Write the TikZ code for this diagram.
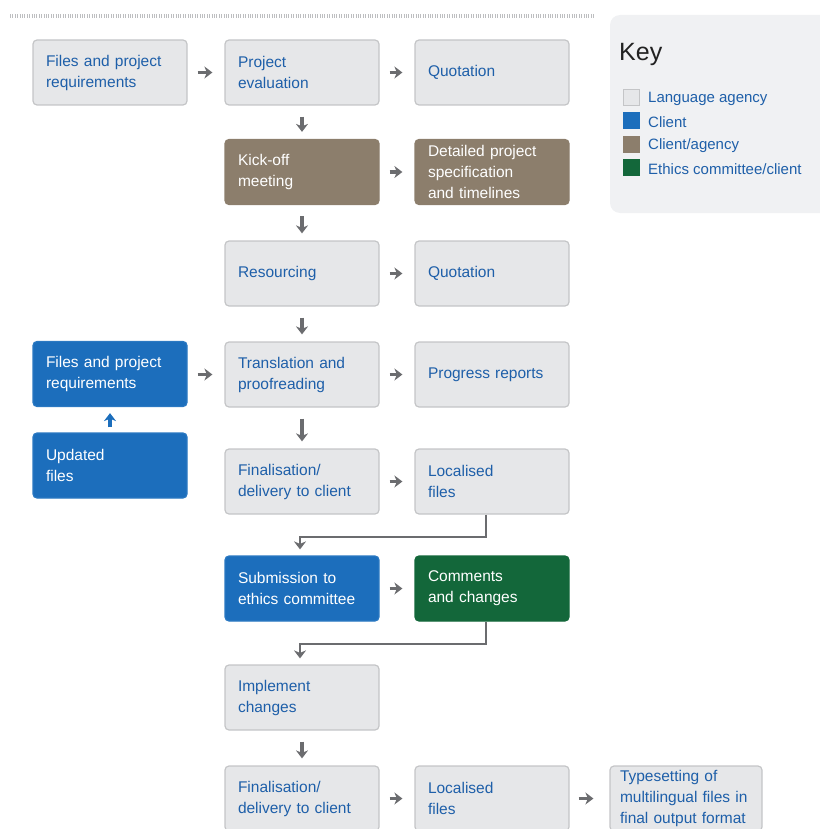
\documentclass[tikz,border=0pt]{standalone}
\usepackage{fontspec}
\setmainfont{Liberation Sans}
\usetikzlibrary{arrows.meta,calc}
\definecolor{boxgray}{HTML}{E6E7E9}
\definecolor{boxline}{HTML}{C4C5C7}
\definecolor{txtblue}{HTML}{1E5FA9}
\definecolor{clientblue}{HTML}{1C6EBC}
\definecolor{clientline}{HTML}{2A78C2}
\definecolor{brownbox}{HTML}{8C7E6C}
\definecolor{greenbox}{HTML}{13673A}
\definecolor{arrowgray}{HTML}{6B6C6F}
\definecolor{keybg}{HTML}{F0F1F3}
\definecolor{dotgray}{HTML}{BDBEC0}
\definecolor{keytext}{HTML}{222222}
\tikzset{
  basebox/.style={rectangle, rounded corners=4pt, minimum width=154pt, minimum height=65pt,
    text width=128pt, inner xsep=13pt, inner ysep=0pt, align=left,
    font=\fontsize{15.5}{21}\selectfont, line width=1.2pt},
  agency/.style={basebox, fill=boxgray, draw=boxline, text=txtblue},
  client/.style={basebox, fill=clientblue, draw=clientline, text=white},
  both/.style={basebox, fill=brownbox, draw=brownbox, text=white},
  ethics/.style={basebox, fill=greenbox, draw=greenbox, text=white},
  tip/.style={-{Stealth[length=8pt,width=12pt,inset=2.5pt]}},
  harr/.style={draw=arrowgray, line width=3.5pt, tip, shorten <=10pt, shorten >=12pt},
  varr/.style={draw=arrowgray, line width=3.5pt, tip, shorten <=11pt, shorten >=7pt},
  uarr/.style={draw=clientblue, line width=3.5pt, tip, shorten <=5pt, shorten >=6pt},
  elbow/.style={draw=arrowgray, line width=2pt, -{Stealth[length=8pt,width=12pt,inset=2.5pt]}, shorten >=6pt},
  legsq/.style={rectangle, minimum width=16pt, minimum height=16pt, inner sep=0pt, line width=0.8pt},
  legtxt/.style={anchor=west, inner sep=0pt, text=txtblue, font=\fontsize{15}{18}\selectfont},
  dotline/.style={draw=dotgray, line width=4pt, dash pattern=on 1pt off 1.4pt}
}
\begin{document}
\begin{tikzpicture}[x=1pt,y=-1pt]
\useasboundingbox (0,0) rectangle (819,829);
% top dotted rule
\draw[dotline] (10,16) -- (595,16);
% key panel
\fill[keybg, rounded corners=10pt] (610,15) rectangle (845,213);
\node[anchor=west, inner sep=0pt, text=keytext, font=\fontsize{25}{30}\selectfont] (keyt) at (619,54) {Key};
\node[legsq, fill=boxgray, draw=boxline] (k1) at (631,97) {};
\node[legsq, fill=clientblue, draw=clientblue] (k2) at (631,120) {};
\node[legsq, fill=brownbox, draw=brownbox] (k3) at (631,144) {};
\node[legsq, fill=greenbox, draw=greenbox] (k4) at (631,167) {};
\node[legtxt] (kt1) at (648,99) {Language agency};
\node[legtxt] (kt2) at (648,122) {Client};
\node[legtxt] (kt3) at (648,146) {Client/agency};
\node[legtxt] (kt4) at (648,169) {Ethics committee/client};
% boxes
\node[agency] (files1) at (110,72.5) {Files and project\\requirements};
\node[agency] (eval) at (302,72.5) {Project\\evaluation};
\node[agency] (quot1) at (492,72.5) {Quotation};
\node[both] (kick) at (302,172) {Kick-off\\meeting};
\node[both] (detail) at (492,172) {Detailed project\\specification\\and timelines};
\node[agency] (res) at (302,273.5) {Resourcing};
\node[agency] (quot2) at (492,273.5) {Quotation};
\node[client] (files2) at (110,374) {Files and project\\requirements};
\node[agency] (trans) at (302,374.5) {Translation and\\proofreading};
\node[agency] (prog) at (492,374.5) {Progress reports};
\node[client] (upd) at (110,465.5) {Updated\\files};
\node[agency] (fin1) at (302,481.5) {Finalisation/\\delivery to client};
\node[agency] (loc1) at (492,481.5) {Localised\\files};
\node[client] (sub) at (302,588.5) {Submission to\\ethics committee};
\node[ethics] (comm) at (492,588.5) {Comments\\and changes};
\node[agency] (impl) at (302,697.5) {Implement\\changes};
\node[agency] (fin2) at (302,798.5) {Finalisation/\\delivery to client};
\node[agency] (loc2) at (492,798.5) {Localised\\files};
\node[agency, minimum width=152pt, text width=138pt, inner xsep=7pt] (type) at (686,798.5) {\hspace*{3pt}Typesetting of\\\hspace*{3pt}multilingual files in\\\hspace*{3pt}final output format};
% horizontal arrows
\draw[harr] (files1) -- (eval);
\draw[harr] (eval) -- (quot1);
\draw[harr] (kick) -- (detail);
\draw[harr] (res) -- (quot2);
\draw[harr] (files2.east |- trans.east) -- (trans.west);
\draw[harr] (trans) -- (prog);
\draw[harr] (fin1) -- (loc1);
\draw[harr] (sub) -- (comm);
\draw[harr] (fin2) -- (loc2);
\draw[harr, shorten <=9pt, shorten >=16pt] (loc2) -- (type);
% vertical arrows
\draw[varr] (eval) -- (kick);
\draw[varr] (kick) -- (res);
\draw[varr] (res) -- (trans);
\draw[varr] (trans) -- (fin1);
\draw[varr] (impl) -- (fin2);
\draw[uarr] (upd) -- (files2);
% elbow connectors
\draw[elbow] ($(loc1.south)+(-6,0)$) -- ++(0,22) -| ($(sub.north)+(-2,0)$);
\draw[elbow] ($(comm.south)+(-6,0)$) -- ++(0,22) -| ($(impl.north)+(-2,0)$);
\end{tikzpicture}
\end{document}
